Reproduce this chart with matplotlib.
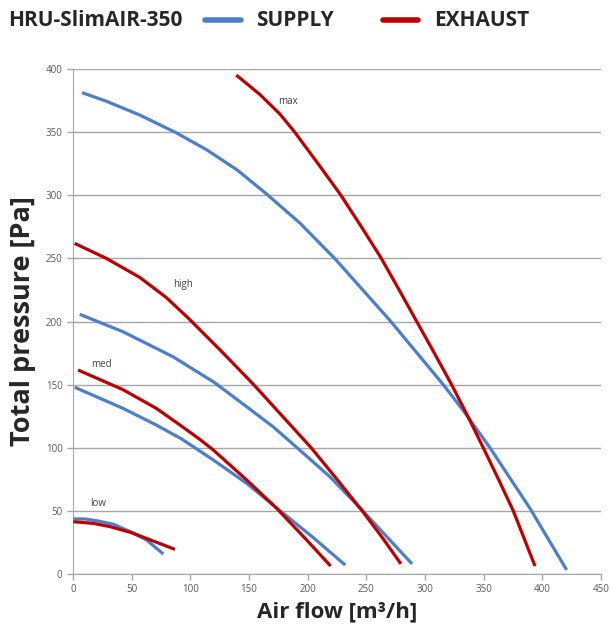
import matplotlib.pyplot as plt
from matplotlib.lines import Line2D

# supply curves (blue)
sup_max_x = [7.7, 28.4, 56.8, 88, 114, 140, 165, 193.4, 223, 270, 315.6, 332.6, 355.4, 389.5, 420.8]
sup_max_y = [381.3, 374.5, 363.6, 349.5, 336, 320, 301, 278, 250, 201, 150, 129.5, 100, 52, 3.2]
sup_high_x = [5.7, 42.6, 85.2, 120, 148, 170.5, 191, 219, 246, 268, 289]
sup_high_y = [205.7, 191.9, 172.1, 152, 132.5, 116.7, 100, 77, 51, 29, 8]
sup_med_x = [1.4, 42.6, 71, 92.5, 119.6, 148, 176.4, 204.8, 232]
sup_med_y = [147.9, 131.2, 118, 107, 90.3, 71.8, 50.2, 28.8, 7.1]
sup_low_x = [0.3, 10.2, 20.2, 34.4, 50, 62.8, 77]
sup_low_y = [43.6, 43.6, 42.2, 39.4, 33, 26.9, 15.8]

# exhaust curves (red)
exh_max_x = [139.2, 159.1, 176.2, 189, 208.5, 228, 245.5, 262.5, 278, 293, 308, 322.7,
             336.5, 349.7, 362.7, 375.3, 393.8]
exh_max_y = [395.2, 380, 364.5, 350, 325.5, 300.5, 275.5, 250.5, 225, 200, 175, 150,
             125, 100, 75, 50, 6.3]
exh_high_x = [1.4, 28.4, 56.8, 79.5, 99, 128, 154, 178.5, 203, 225, 246.5, 263.1, 279.5]
exh_high_y = [261.9, 250, 235, 219, 202, 175, 150, 125, 100, 75, 50, 29.5, 8]
exh_med_x = [4.3, 42.6, 71, 91.2, 108, 119.6, 148, 173.6, 199.2, 219.6]
exh_med_y = [161.6, 146, 131.2, 118, 106.7, 98.2, 74.5, 52, 26.9, 6.3]
exh_low_x = [0.3, 17.3, 31.5, 50, 68.4, 86.9]
exh_low_y = [41.4, 40.1, 37.5, 32.7, 26.1, 19.5]

labels = ['max', 'high', 'med', 'low']
label_x = [183, 94, 24, 21.6]
label_y = [374, 229, 166, 56]

blue = '#4a7fcc'
red = '#c00000'
grid_col = '#a6a6a6'
text_col = '#262626'

fig = plt.figure(figsize=(6.11, 6.35), dpi=100)
ax = fig.add_axes([0.1195, 0.0961, 0.864, 0.7952])

for xs, ys in [(sup_max_x, sup_max_y), (sup_high_x, sup_high_y),
               (sup_med_x, sup_med_y), (sup_low_x, sup_low_y)]:
    ax.plot(xs, ys, color=blue, lw=2.3, solid_capstyle='butt',
            solid_joinstyle='round', zorder=3)
for xs, ys in [(exh_max_x, exh_max_y), (exh_high_x, exh_high_y),
               (exh_med_x, exh_med_y), (exh_low_x, exh_low_y)]:
    ax.plot(xs, ys, color=red, lw=2.3, solid_capstyle='butt',
            solid_joinstyle='round', zorder=3)

for t, x, y in zip(labels, label_x, label_y):
    ax.text(x, y, t, fontsize=7, color='#404040', ha='center', va='center',
            family='Open Sans')

ax.set_xlim(0, 450)
ax.set_ylim(0, 400)
ax.set_xticks(range(0, 451, 50))
ax.set_yticks(range(0, 401, 50))
ax.yaxis.grid(True, color=grid_col, lw=1)
ax.set_axisbelow(True)
for s in ['top', 'right']:
    ax.spines[s].set_visible(False)
for s in ['left', 'bottom']:
    ax.spines[s].set_color(grid_col)
ax.tick_params(axis='both', labelsize=7, colors=grid_col, labelcolor='#595959',
               length=4, width=1)
for lab in ax.get_xticklabels() + ax.get_yticklabels():
    lab.set_family('Open Sans')

ax.set_xlabel('Air flow [m³/h]', fontsize=16, fontweight='bold',
              family='Open Sans', color=text_col, labelpad=4)
ax.set_ylabel('Total pressure [Pa]', fontsize=19.5, fontweight='bold',
              family='Open Sans', color=text_col, labelpad=7)

# header with title and legend
hy = 1 - 20 / 635
fig.text(8 / 611, hy, 'HRU-SlimAIR-350', fontsize=15, fontweight='bold',
         family='Open Sans', color=text_col, va='center')
fig.add_artist(Line2D([205 / 611, 241 / 611], [hy, hy], color=blue,
                      lw=4, solid_capstyle='round'))
fig.text(256 / 611, hy, 'SUPPLY', fontsize=15, fontweight='bold',
         family='Open Sans', color=text_col, va='center')
fig.add_artist(Line2D([383 / 611, 418 / 611], [hy, hy], color=red,
                      lw=4, solid_capstyle='round'))
fig.text(434 / 611, hy, 'EXHAUST', fontsize=15, fontweight='bold',
         family='Open Sans', color=text_col, va='center')

fig.savefig('out.png', dpi=100)
